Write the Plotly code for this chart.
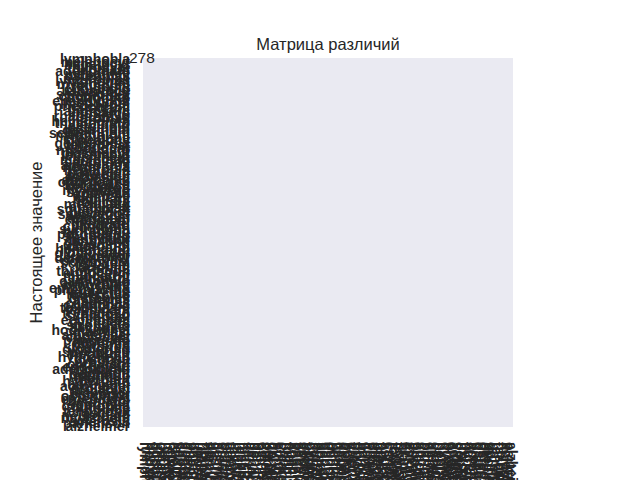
import plotly.graph_objects as go

labels = [
    "lymphobla", "melanocyt", "hepatocyt", "thyrocyte", "glioblast", "adenomato", "mesotheli", "osteoblas", "neuroblas", "lymphomat",
    "myelodysp", "retinobla", "cholangio", "leiomyocy", "seminomat", "chondrocy", "astrocyto", "ependymoc", "medullobl", "pheochrom",
    "paraganli", "angiosarc", "liposarco", "rhabdomyo", "fibroblas", "hemangiom", "thymomato", "carcinoid", "insulinom", "gastrinom",
    "schwannom", "meningiom", "craniopha", "pinealocy", "germinoma", "teratomat", "choriocar", "myelomato", "plasmacyt", "leukemoid",
    "histiocyt", "mastocyto", "sarcoidos", "amyloidos", "nephrobla", "hepatobla", "pancreati", "pleuropul", "esthesion", "ameloblas",
    "odontogen", "keratoaca", "dermatofi", "myxofibro", "synovials", "epithelio", "clearcell", "papillary", "follicula", "medullary",
    "anaplasti", "squamocel", "basaloidf", "sebaceous", "apocrinef", "eccrinesp", "trichoepi", "pilomatri", "cylindrom", "syringoma",
    "hidradeno", "poromatou", "spiradeno", "neurofibr", "ganglione", "oligodend", "choroidpl", "hemangiob", "lymphangi", "glomustum",
    "kaposifor", "dermatomy", "polymyosi", "sclerodem", "vasculiti", "arteritis", "thromboph", "endocardi", "myocardit", "pericardi",
    "cardiomyo", "arrhythmo", "bronchiec", "emphysema", "pneumotho", "atelectas", "tuberculo", "histoplas", "aspergill", "candidias",
    "cryptococ", "toxoplasm", "leishmani", "trypanoso", "schistoso", "filariasi", "echinococ", "cysticerc", "strongylo", "ascariasi",
    "hookworma", "giardiasi", "amoebiasi", "cholecyst", "pancreato", "hepatitis", "cirrhotic", "steatohep", "glomerulo", "pyelonep",
    "nephrolit", "hydroneph", "cystitisa", "prostatit", "orchitism", "endometri", "adenomyos", "salpingit", "oophoriti", "mastitisp",
    "thyroidit", "hyperpara", "adrenalin", "acromegal", "prolactin", "diabetesi", "osteopor", "osteomala", "osteomyel", "rheumatoi",
    "spondylit", "gouttopha", "bursitisc", "tendinopa", "fasciitis", "neuropath", "myastheni", "sclerosis", "parkinson", "alzheimer",
]
n_cat = len(labels)
z_values = [[0] * n_cat for _ in range(n_cat)]
corner_text = "278"

fig = go.Figure(go.Heatmap(
    z=z_values, x=labels, y=labels, showscale=False, hoverinfo="skip",
    colorscale=[[0, "rgba(0,0,0,0)"], [1, "rgba(0,0,0,0)"]],
))

fig.add_annotation(xref="paper", yref="paper", x=0, y=1, xanchor="center", yanchor="middle",
                   xshift=-1, yshift=1, text=corner_text, showarrow=False,
                   font=dict(size=15.5, color="#262626"))

tick_font = dict(family="Liberation Sans, Arial, sans-serif", size=14, color="#262626",
                 weight="bold")
fig.update_layout(
    width=640, height=480,
    margin=dict(l=143, r=127, t=58, b=53),
    paper_bgcolor="white", plot_bgcolor="#EAEAF2",
    font=dict(family="Liberation Sans, Arial, sans-serif", color="#262626"),
    title=dict(text="Матрица различий", x=0.5125, xanchor="center", y=0.908, yanchor="middle",
               font=dict(size=16.5, color="#262626")),
    showlegend=False,
)
fig.update_xaxes(type="category", categoryorder="array", categoryarray=labels,
                 tickmode="array", tickvals=labels, ticktext=labels,
                 tickangle=90, tickfont=tick_font, showgrid=False, zeroline=False,
                 ticks="", automargin=False, showline=False, ticklabelstandoff=14)
fig.update_yaxes(type="category", categoryorder="array", categoryarray=labels,
                 tickmode="array", tickvals=labels, ticktext=labels,
                 autorange="reversed", tickfont=tick_font, showgrid=False, zeroline=False,
                 ticks="", automargin=False, showline=False, ticklabelstandoff=12,
                 title=dict(text="Настоящее значение", standoff=2,
                            font=dict(size=16.5, color="#262626")))

fig.write_html("out.html")
